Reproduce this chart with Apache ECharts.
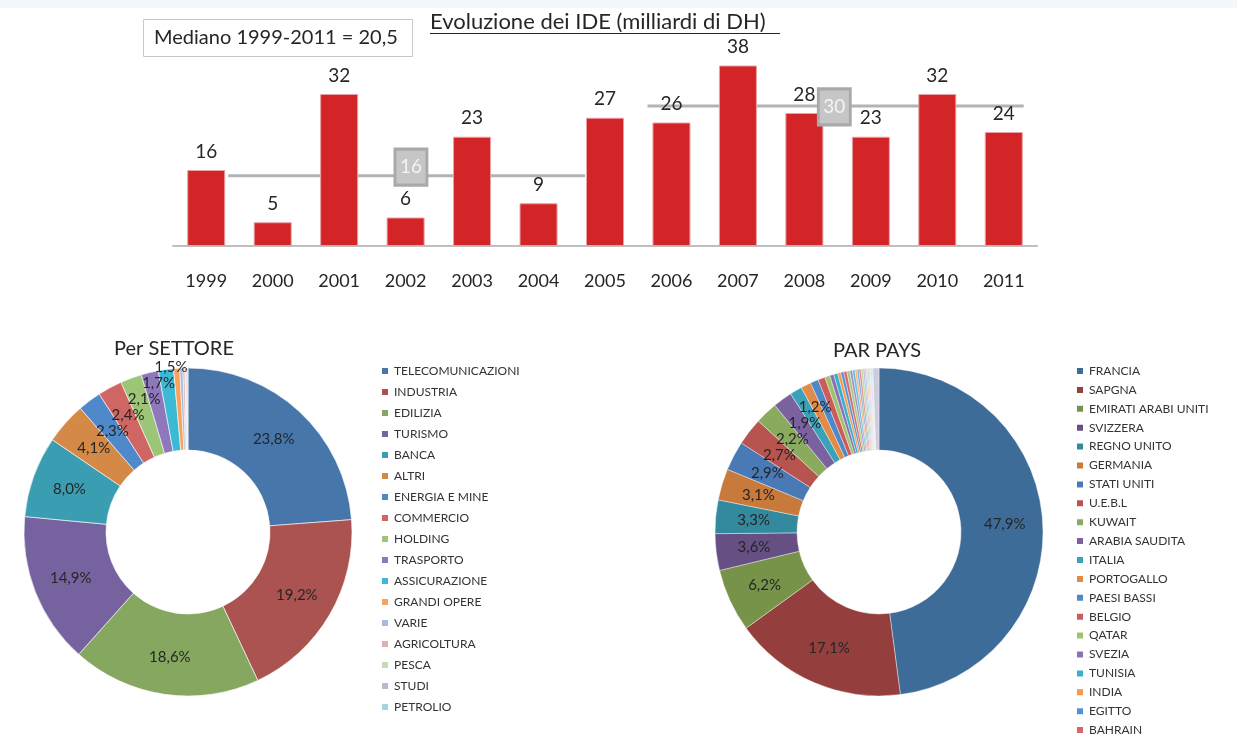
<!DOCTYPE html>
<html>
<head>
<meta charset="utf-8">
<title>Evoluzione dei IDE</title>
<script src="https://cdn.jsdelivr.net/npm/echarts@6.0.0/dist/echarts.min.js"></script>
<style>
  html, body { margin: 0; padding: 0; background: #fff; }
  #chart { width: 1237px; height: 736px; }
</style>
</head>
<body>
<div id="chart"></div>
<script>
// bar chart: IDE per year (billions DH)
const years = ['1999', '2000', '2001', '2002', '2003', '2004', '2005', '2006', '2007', '2008', '2009', '2010', '2011'];
const ide = [16, 5, 32, 6, 23, 9, 27, 26, 38, 28, 23, 32, 24];

// grey median lines (position on a 0..13 slot scale) and their tags
const medianSpans = [[0.83, 6.2], [7.14, 12.8]];
const medianLevels = [14.8, 29.5];
const medianTags = ['16', '30'];
const medianTagAt = [[3.58, 16.6], [9.95, 29.3]];

// donut 1: per settore
const sectors = ['TELECOMUNICAZIONI', 'INDUSTRIA', 'EDILIZIA', 'TURISMO', 'BANCA', 'ALTRI', 'ENERGIA E MINE',
  'COMMERCIO', 'HOLDING', 'TRASPORTO', 'ASSICURAZIONE', 'GRANDI OPERE', 'VARIE', 'AGRICOLTURA', 'PESCA', 'STUDI', 'PETROLIO'];
const sectorShares = [23.8, 19.2, 18.6, 14.9, 8.0, 4.1, 2.3, 2.4, 2.1, 1.7, 1.5, 0.6, 0.3, 0.2, 0.1, 0.1, 0.1];
const sectorColors = ['#4776ab', '#ab5350', '#86a760', '#7762a0', '#3a9db2', '#d58947', '#5089c9',
  '#cf6663', '#9cc577', '#8e78bb', '#3cb9d4', '#f8a25e', '#a9bbdb', '#ddb1b0', '#c5dbb8', '#c0b6d4', '#a8d2e0'];

// donut 2: par pays (legend is cut off after BAHRAIN in the source)
const countries = ['FRANCIA', 'SAPGNA', 'EMIRATI ARABI UNITI', 'SVIZZERA', 'REGNO UNITO', 'GERMANIA', 'STATI UNITI',
  'U.E.B.L', 'KUWAIT', 'ARABIA SAUDITA', 'ITALIA', 'PORTOGALLO', 'PAESI BASSI', 'BELGIO', 'QATAR', 'SVEZIA',
  'TUNISIA', 'INDIA', 'EGITTO', 'BAHRAIN',
  'ALTRO 1', 'ALTRO 2', 'ALTRO 3', 'ALTRO 4', 'ALTRO 5', 'ALTRO 6', 'ALTRO 7', 'ALTRO 8',
  'ALTRO 9', 'ALTRO 10', 'ALTRO 11', 'ALTRO 12', 'ALTRO 13', 'ALTRO 14', 'ALTRO 15', 'ALTRO 16'];
const countryShares = [47.9, 17.1, 6.2, 3.6, 3.3, 3.1, 2.9, 2.7, 2.2, 1.9, 1.2, 1.0, 0.8, 0.7, 0.5, 0.4,
  0.4, 0.3, 0.3, 0.3,
  0.3, 0.25, 0.25, 0.2, 0.2, 0.2, 0.2, 0.15, 0.15, 0.15, 0.1, 0.1, 0.1, 0.1, 0.1, 0.6];
const countryColors = ['#3e6c99', '#943f3d', '#77934a', '#664f83', '#338a9e', '#c8793c', '#4a7ab5',
  '#b85450', '#8aab5e', '#7a62a0', '#3aa2b8', '#e28b47', '#4f88c8', '#cb5c5a', '#9dc36e', '#8a70b3',
  '#36b1cc', '#f5994f', '#5591d6', '#d66865',
  '#a9c98a', '#a18dc4', '#64c3d9', '#f7ad74', '#7fa8dc', '#dd8987', '#bcd6a4', '#b5a7d1',
  '#8dd2e2', '#f9c39b', '#a6c0e6', '#e6abaa', '#cfe2be', '#c9bfdf', '#b5dfea', '#cfcbde'];

const font = 'Lato, "Noto Sans", sans-serif';
const pct = (p) => p.value >= 1.2 ? p.value.toFixed(1).replace('.', ',') + '%' : '';

// push a small slice's label upward until it clears the labels already placed
const placed = {};
function stackLabels(params) {
  if (params.dataIndex === 0) placed[params.seriesIndex] = [];
  const r = params.labelRect;
  if (!r || r.width < 1) return;
  const list = placed[params.seriesIndex];
  let top = r.y;
  const h = r.height + 1;
  let moved = true;
  while (moved) {
    moved = false;
    for (const p of list) {
      const xHit = r.x < p.x + p.width && r.x + r.width > p.x;
      if (xHit && top < p.y + h && top + h > p.y) {
        top = p.y - h;
        moved = true;
      }
    }
  }
  list.push({ x: r.x, y: top, width: r.width });
  return { x: r.x + r.width / 2, y: top + r.height / 2, hideOverlap: false };
}

const chart = echarts.init(document.getElementById('chart'));
chart.setOption({
  animation: false,
  textStyle: { fontFamily: font },
  graphic: [
    { type: 'rect', shape: { x: 0, y: 0, width: 1237, height: 8 }, style: { fill: '#f4f8fc' } },
    { type: 'rect', shape: { x: 143.5, y: 19.5, width: 269, height: 37 }, style: { fill: '#fff', stroke: '#c8c8c8', lineWidth: 1 } },
    { type: 'text', x: 154, y: 38, style: { text: 'Mediano 1999-2011 = 20,5', font: '20px ' + font, fill: '#262626', verticalAlign: 'middle' } },
    { type: 'text', x: 430, y: 22, style: { text: 'Evoluzione dei IDE (milliardi di DH)', font: '22px ' + font, fill: '#262626', verticalAlign: 'middle' } },
    { type: 'line', shape: { x1: 430, y1: 33.5, x2: 780, y2: 33.5 }, style: { stroke: '#262626', lineWidth: 1.2 } },
    { type: 'text', x: 174, y: 349, style: { text: 'Per SETTORE', font: '20px ' + font, fill: '#262626', align: 'center', verticalAlign: 'middle' } },
    { type: 'text', x: 877, y: 351, style: { text: 'PAR PAYS', font: '20px ' + font, fill: '#262626', align: 'center', verticalAlign: 'middle' } }
  ],
  grid: { left: 173, right: 200, top: 56, bottom: 490 },
  xAxis: [
    {
      type: 'category',
      data: years,
      axisLine: { lineStyle: { color: '#bfbfbf', width: 2 } },
      axisTick: { show: false },
      axisLabel: { color: '#262626', fontSize: 18, margin: 26 }
    },
    { type: 'value', min: 0, max: 13, show: false }
  ],
  yAxis: { type: 'value', min: 0, max: 40, show: false },
  legend: [
    {
      data: sectors,
      orient: 'vertical',
      left: 375, top: 359, height: 1000,
      icon: 'rect', itemWidth: 8, itemHeight: 8, itemGap: 7,
      textStyle: { fontSize: 12, color: '#333', lineHeight: 14, fontFamily: font }
    },
    {
      data: countries,
      orient: 'vertical',
      left: 1070, top: 359, height: 2000,
      icon: 'rect', itemWidth: 8, itemHeight: 8, itemGap: 4.9,
      textStyle: { fontSize: 12, color: '#333', lineHeight: 14, fontFamily: font }
    }
  ],
  series: [
    ...medianSpans.map((span, i) => ({
      type: 'line',
      xAxisIndex: 1,
      z: 1,
      symbol: 'none',
      silent: true,
      lineStyle: { color: '#b3b3b3', width: 3 },
      data: [[span[0], medianLevels[i]], [span[1], medianLevels[i]]]
    })),
    {
      type: 'bar',
      z: 2,
      data: ide,
      barWidth: 38,
      itemStyle: { color: '#d32427', borderColor: '#e9a0a2', borderWidth: 1 },
      label: { show: true, position: 'top', distance: 9, fontSize: 19, color: '#262626' }
    },
    {
      type: 'scatter',
      xAxisIndex: 1,
      z: 3,
      symbol: 'rect',
      symbolSize: [32, 36],
      itemStyle: { color: '#c6c6c6', borderColor: '#a9a9a9', borderWidth: 3, opacity: 1 },
      label: { show: true, position: 'inside', formatter: (p) => medianTags[p.dataIndex], fontSize: 19, color: '#f4f4f4' },
      data: medianTagAt
    },
    {
      type: 'pie',
      center: [188, 532],
      radius: [82, 164],
      startAngle: 90,
      clockwise: true,
      avoidLabelOverlap: false,
      itemStyle: { borderColor: '#fff', borderWidth: 0.6 },
      label: { show: true, position: 'inside', formatter: pct, fontSize: 15, color: '#262626' },
      labelLayout: stackLabels,
      emphasis: { disabled: true },
      data: sectors.map((name, i) => ({ name, value: sectorShares[i], itemStyle: { color: sectorColors[i] } }))
    },
    {
      type: 'pie',
      center: [879, 532],
      radius: [82, 164],
      startAngle: 90,
      clockwise: true,
      avoidLabelOverlap: false,
      itemStyle: { borderColor: '#fff', borderWidth: 0.4 },
      label: { show: true, position: 'inside', formatter: pct, fontSize: 15, color: '#262626' },
      labelLayout: stackLabels,
      emphasis: { disabled: true },
      data: countries.map((name, i) => ({ name, value: countryShares[i], itemStyle: { color: countryColors[i] } }))
    }
  ]
});
</script>
</body>
</html>
